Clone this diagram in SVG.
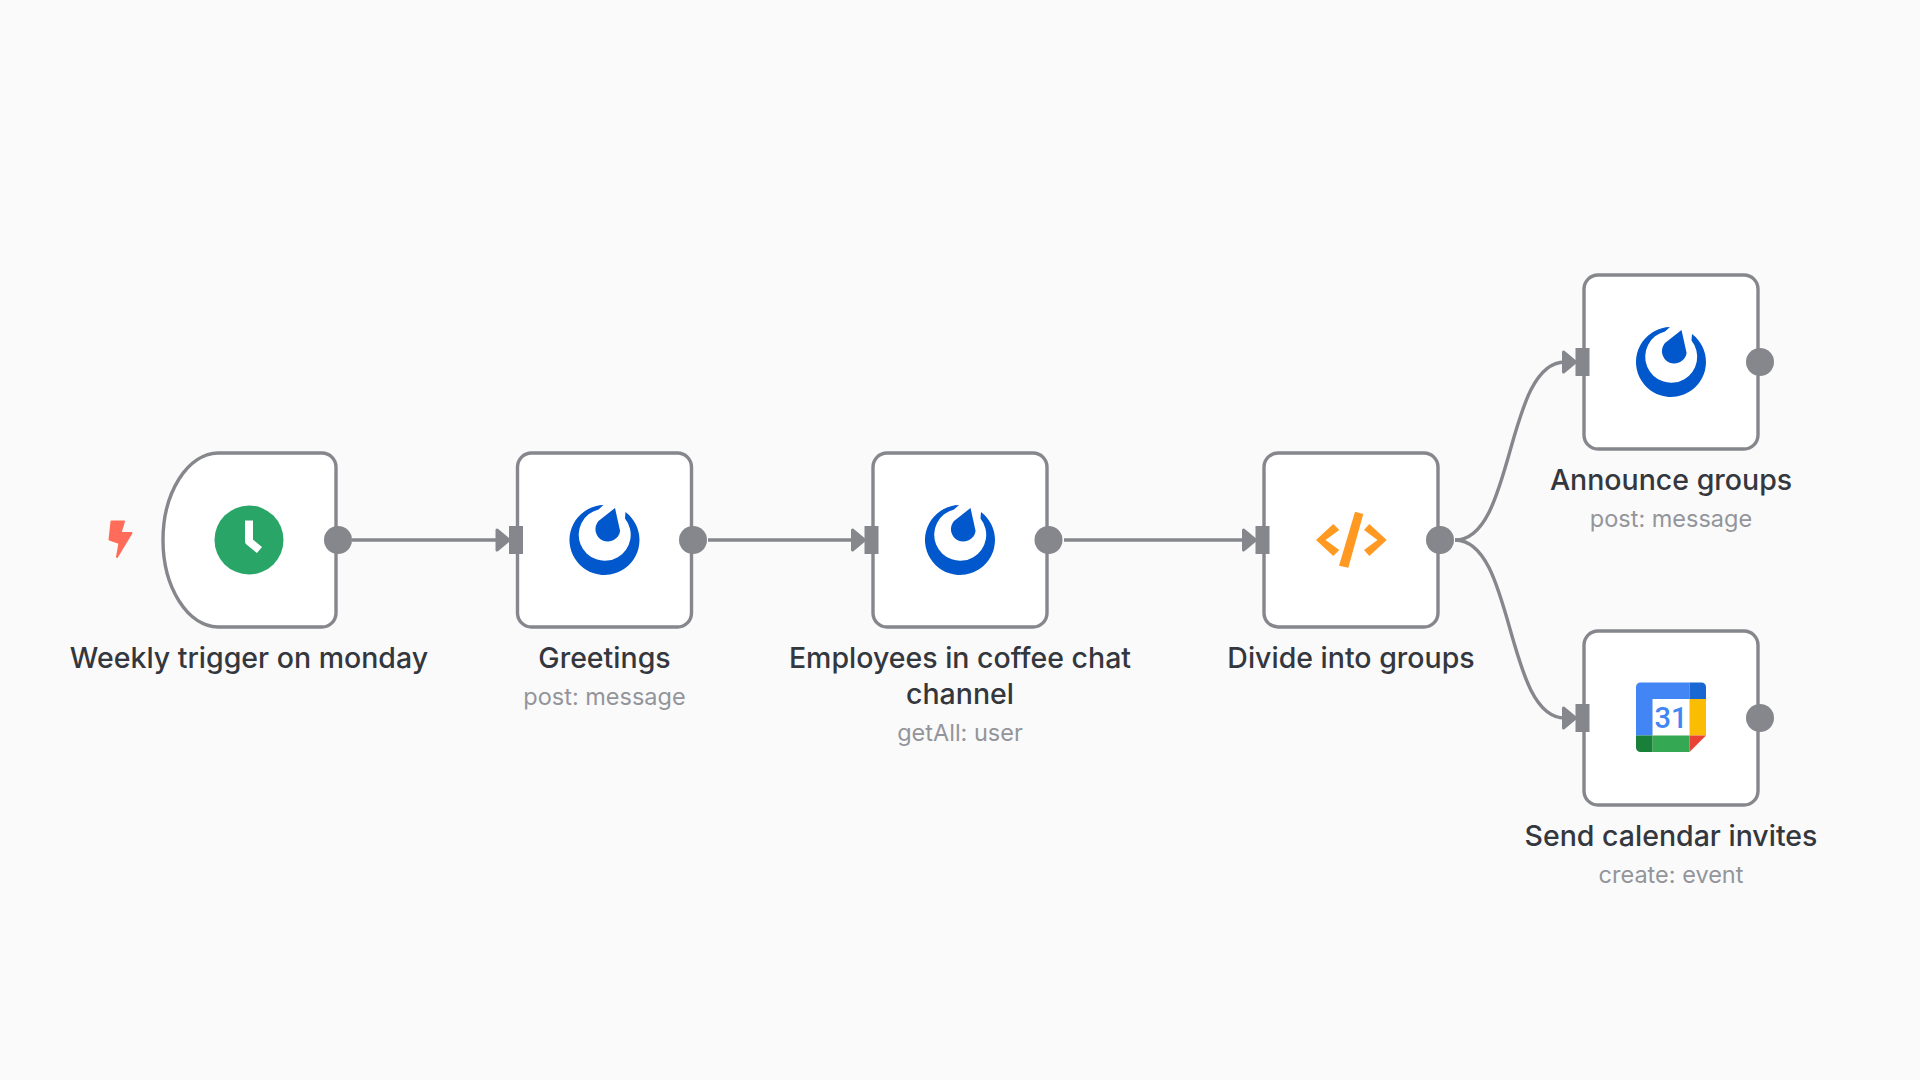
<svg xmlns="http://www.w3.org/2000/svg" xmlns:xlink="http://www.w3.org/1999/xlink" width="1920" height="1080" viewBox="0 0 1920 1080">
<style>
.box{fill:#fff;stroke:#85878c;stroke-width:3.4}
.port{fill:#85878c}
.link{fill:none;stroke:#85878c;stroke-width:3.4}
.t{font-family:Inter,"Liberation Sans",sans-serif;font-size:28.5px;font-weight:500;fill:#34373d;text-anchor:middle}
.s{font-family:Inter,"Liberation Sans",sans-serif;font-size:23.5px;font-weight:400;fill:#93959a;text-anchor:middle}
</style>
<defs>
<g id="mm"><path fill="#0058cc" d="M-1-35A35 35 0 1 0 21-28L20.5-21.5A26 26 0 1 1-6-30.5Z"/><path fill="#0058cc" d="M10.5-32L15.6-9A12.4 12.4 0 1 1-6-19Z"/></g>
<g id="in"><path class="port" d="M-14-14h14v28h-14z"/><path class="port" stroke="#85878c" stroke-width="3" stroke-linejoin="round" d="M-26-10L-14 0L-26 10Z"/></g>
</defs>
<rect width="1920" height="1080" fill="#fafafa"/>
<g id="connectors">
<path class="link" d="M352 540H500"/>
<path class="link" d="M708 540H856"/>
<path class="link" d="M1064 540H1247"/>
<path class="link" d="M1455 540C1515 540 1505 362 1565 362"/>
<path class="link" d="M1455 540C1515 540 1505 718 1565 718"/>
</g>
<g id="node-trigger">
<path class="box" d="M218 453H322a14 14 0 0 1 14 14V613a14 14 0 0 1-14 14H218A56 87 0 0 1 163 540A56 87 0 0 1 218 453Z"/>
<path fill="#ff6d5a" stroke="#ff6d5a" stroke-width="2" stroke-linejoin="round" d="M111.500 521.500H124L120.500 533H131.500L117 557L119.500 543L109.500 539.500Z"/>
<circle cx="249" cy="540" r="34.500" fill="#2aa568"/>
<path fill="none" stroke="#fff" stroke-width="8" stroke-linejoin="round" d="M249 520.500V541.500L259.500 550"/>
<circle class="port" cx="338" cy="540" r="14"/>
<text class="t" x="249" y="668">Weekly trigger on monday</text>
</g>
<g id="node-greetings">
<rect class="box" x="517.500" y="453" width="174" height="174" rx="14"/>
<use xlink:href="#mm" x="604.500" y="540"/>
<use xlink:href="#in" x="523" y="540"/>
<circle class="port" cx="693" cy="540" r="14"/>
<text class="t" x="604.500" y="668">Greetings</text>
<text class="s" x="604.500" y="705">post: message</text>
</g>
<g id="node-employees">
<rect class="box" x="873" y="453" width="174" height="174" rx="14"/>
<use xlink:href="#mm" x="960" y="540"/>
<use xlink:href="#in" x="878.500" y="540"/>
<circle class="port" cx="1048.500" cy="540" r="14"/>
<text class="t" x="960" y="668">Employees in coffee chat</text>
<text class="t" x="960" y="704">channel</text>
<text class="s" x="960" y="741">getAll: user</text>
</g>
<g id="node-divide">
<rect class="box" x="1264" y="453" width="174" height="174" rx="14"/>
<path fill="#ff9922" d="M1316 540L1333.300 524L1339.300 530L1325.500 540L1339.300 550L1333.300 556Z"/>
<path fill="#ff9922" d="M1386.700 540L1369.300 524L1364 530L1377.500 540L1364 550L1369.300 556Z"/>
<path fill="#ff9922" d="M1355 511.700L1363.300 514L1348.300 567.700L1339 565.700Z"/>
<use xlink:href="#in" x="1269.500" y="540"/>
<circle class="port" cx="1440" cy="540" r="14"/>
<text class="t" x="1351" y="668">Divide into groups</text>
</g>
<g id="node-announce">
<rect class="box" x="1584" y="275" width="174" height="174" rx="14"/>
<use xlink:href="#mm" x="1671" y="362"/>
<use xlink:href="#in" x="1589.500" y="362"/>
<circle class="port" cx="1760" cy="362" r="14"/>
<text class="t" x="1671" y="490">Announce groups</text>
<text class="s" x="1671" y="527">post: message</text>
</g>
<g id="node-calendar">
<rect class="box" x="1584" y="631" width="174" height="174" rx="14"/>
<path fill="#4285f4" d="M1652.500 735.500H1636V687a4.500 4.500 0 0 1 4.500-4.500H1689.500V699H1652.500Z"/>
<path fill="#1967d2" d="M1689.500 682.500H1701.500a4.500 4.500 0 0 1 4.500 4.500V699H1689.500Z"/>
<path fill="#fbbc04" d="M1689.500 699H1706V735.500H1689.500Z"/>
<path fill="#ea4335" d="M1689.500 735.500H1706L1689.500 752Z"/>
<path fill="#34a853" d="M1652.500 735.500H1689.500V752H1652.500Z"/>
<path fill="#188038" d="M1636 735.500H1652.500V752H1640.500a4.500 4.500 0 0 1-4.500-4.500Z"/>
<text x="1671" y="728" font-family="Roboto,'Liberation Sans',sans-serif" font-size="29" font-weight="500" fill="#4285f4" text-anchor="middle">31</text>
<use xlink:href="#in" x="1589.500" y="718"/>
<circle class="port" cx="1760" cy="718" r="14"/>
<text class="t" x="1671" y="846">Send calendar invites</text>
<text class="s" x="1671" y="883">create: event</text>
</g>
</svg>
